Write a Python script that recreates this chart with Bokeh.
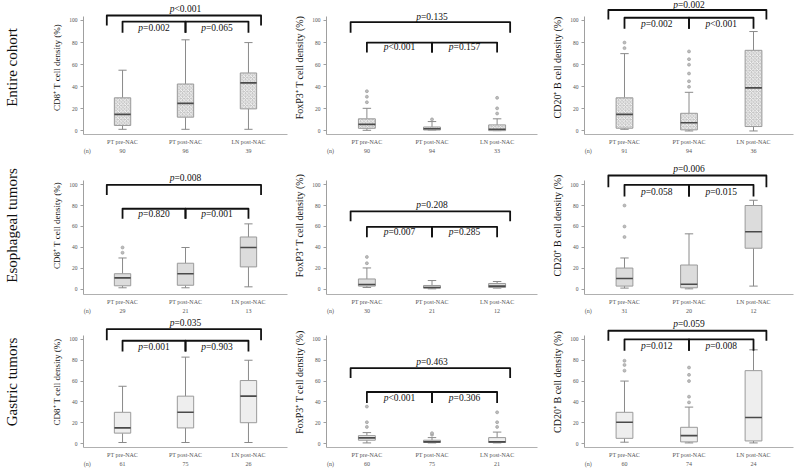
from bokeh.plotting import figure
from bokeh.models import FixedTicker, Range1d, LinearAxis
from bokeh.layouts import column, row
from bokeh.embed import file_html
from bokeh.resources import INLINE
from bokeh.core.properties import value

# ---------------- data ----------------
categories = ["PT pre-NAC", "PT post-NAC", "LN post-NAC"]
row_labels = ["Entire cohort", "Esophageal tumors", "Gastric tumors"]
y_labels = ["CD8\u207a T cell density (%)", "FoxP3\u207a T cell density (%)", "CD20\u207a B cell density (%)"]
y_ticks = [0, 20, 40, 60, 80, 100]

# box stats per category: [whisker low, q1, median, q3, whisker high]
entire_cd8 = [[1.5, 5, 15, 30, 55], [1.5, 12.5, 25, 42.5, 82.5], [1.5, 20, 43.5, 52.5, 80]]
entire_cd8_out = [[], [], []]
entire_cd8_n = [90, 96, 39]
entire_cd8_p = ["<0.001", "=0.002", "=0.065"]   # outer, left, right

entire_foxp3 = [[0.6, 2.4, 6, 11, 20.5], [0.9, 0.9, 2, 3.6, 8.5], [0.3, 0.3, 1.5, 5.5, 11]]
entire_foxp3_out = [[26, 31, 36], [10.5], [15.8, 20.5, 30]]
entire_foxp3_n = [90, 94, 33]
entire_foxp3_p = ["=0.135", "<0.001", "=0.157"]

entire_cd20 = [[1.5, 2.5, 15, 30, 70], [0, 1, 7.5, 16, 35], [0, 4, 39, 73, 90]]
entire_cd20_out = [[75, 80], [40, 45, 52, 60, 65, 72], []]
entire_cd20_n = [91, 94, 36]
entire_cd20_p = ["=0.002", "=0.002", "<0.001"]

eso_cd8 = [[1.6, 3.5, 11, 15, 30], [1.6, 4, 15, 25, 40], [2.5, 21.5, 40, 50, 62.5]]
eso_cd8_out = [[35, 40], [], []]
eso_cd8_n = [29, 21, 13]
eso_cd8_p = ["=0.008", "=0.820", "=0.001"]

eso_foxp3 = [[1.9, 3.2, 4.7, 10, 20.5], [0.6, 1.3, 1.9, 3.8, 8.5], [1.3, 1.9, 3.2, 5.7, 7.6]]
eso_foxp3_out = [[25, 31], [], []]
eso_foxp3_n = [30, 21, 12]
eso_foxp3_p = ["=0.208", "=0.007", "=0.285"]

eso_cd20 = [[1.3, 3.2, 10.5, 20.4, 30], [0.6, 1.6, 5, 23.3, 53], [3.2, 39.3, 55, 80, 85]]
eso_cd20_out = [[50, 60, 80], [], []]
eso_cd20_n = [31, 20, 12]
eso_cd20_p = ["=0.006", "=0.058", "=0.015"]

gas_cd8 = [[1, 10, 15, 30, 55], [1, 15, 30, 45.5, 83], [1, 20, 45.5, 60.5, 80]]
gas_cd8_out = [[], [], []]
gas_cd8_n = [61, 75, 26]
gas_cd8_p = ["=0.035", "=0.001", "=0.903"]

gas_foxp3 = [[0.6, 3.2, 5.4, 7.6, 10.5], [0.6, 1, 1.6, 3.2, 5.7], [0.6, 1, 1.6, 5.7, 11]]
gas_foxp3_out = [[16, 20.5, 35.5], [8.5, 10], [16, 20.5, 30]]
gas_foxp3_n = [60, 75, 21]
gas_foxp3_p = ["=0.463", "<0.001", "=0.306"]

gas_cd20 = [[1.3, 5, 20.4, 30, 60], [0.6, 1.6, 7.6, 15.6, 35], [0.6, 2.5, 25, 70, 90]]
gas_cd20_out = [[70, 75.5, 79.5], [39.5, 45, 60, 66, 73], []]
gas_cd20_n = [60, 74, 24]
gas_cd20_p = ["=0.059", "=0.012", "=0.008"]

panels = [
    [(entire_cd8, entire_cd8_out, entire_cd8_n, entire_cd8_p),
     (entire_foxp3, entire_foxp3_out, entire_foxp3_n, entire_foxp3_p),
     (entire_cd20, entire_cd20_out, entire_cd20_n, entire_cd20_p)],
    [(eso_cd8, eso_cd8_out, eso_cd8_n, eso_cd8_p),
     (eso_foxp3, eso_foxp3_out, eso_foxp3_n, eso_foxp3_p),
     (eso_cd20, eso_cd20_out, eso_cd20_n, eso_cd20_p)],
    [(gas_cd8, gas_cd8_out, gas_cd8_n, gas_cd8_p),
     (gas_foxp3, gas_foxp3_out, gas_foxp3_n, gas_foxp3_p),
     (gas_cd20, gas_cd20_out, gas_cd20_n, gas_cd20_p)],
]

# ---------------- layout / style ----------------
# bracket heights per panel: outer top, outer leg, outer text, inner top, inner leg, inner text
bracket_y = [
    [(104.5, 95.5, 110.8, 99, 89, 93), (98.5, 89, 103.6, 80, 71, 75.7), (109.5, 101, 114.2, 102.5, 92.5, 97)],
    [(99.7, 90, 106.4, 76.9, 67.3, 72.1), (74.5, 65, 80.2, 59.7, 49.7, 55), (108.6, 97.5, 115, 99.7, 88.6, 93)],
    [(109.9, 99.3, 115.4, 98.7, 88.5, 92.5), (72.4, 62.9, 78, 49.5, 39, 44), (108.3, 98.8, 114.6, 100, 89.2, 93.5)],
]
row_heights = [156, 160, 153]
row_yrange = [(-3.2, 118.1), (-4.8, 126.7), (-3.8, 122)]
col_widths = [290, 258, 252]
col_left = [75, 36, 36]
col_right = [3, 11, 7]
ylabel_size = ["9px", "10px", "10px"]
box_styles = [
    dict(fill_color="#c6c6c6", hatch_pattern="diagonal_cross", hatch_color="white",
         hatch_scale=3.5, hatch_weight=0.8),
    dict(fill_color="#dcdcdc"),
    dict(fill_color="#eeeeee"),
]
SERIF = "Liberation Serif"
xpos = [1, 2, 3]
N_POS = 0.44
BW = 0.26
CAP = 0.065

rows_out = []
for r in range(3):
    figs = []
    for c in range(3):
        stats, outs, ns, pv = panels[r][c]
        p = figure(width=col_widths[c], height=row_heights[r],
                   x_range=Range1d(0.38, 3.62), y_range=Range1d(*row_yrange[r]),
                   output_backend="svg", toolbar_location=None,
                   min_border_left=col_left[c], min_border_right=col_right[c],
                   min_border_top=0, min_border_bottom=0)
        p.outline_line_color = None
        p.grid.visible = False
        p.background_fill_color = "white"

        low = [s[0] for s in stats]
        q1 = [s[1] for s in stats]
        med = [s[2] for s in stats]
        q3 = [s[3] for s in stats]
        high = [s[4] for s in stats]

        # whiskers
        p.segment(x0=xpos, y0=q3, x1=xpos, y1=high, line_color="#8a8a8a", line_width=1)
        p.segment(x0=xpos, y0=low, x1=xpos, y1=q1, line_color="#8a8a8a", line_width=1)
        p.segment(x0=[x - CAP for x in xpos], y0=high, x1=[x + CAP for x in xpos], y1=high,
                  line_color="#8a8a8a", line_width=1)
        p.segment(x0=[x - CAP for x in xpos], y0=low, x1=[x + CAP for x in xpos], y1=low,
                  line_color="#8a8a8a", line_width=1)
        # boxes
        p.vbar(x=xpos, width=BW, bottom=q1, top=q3, line_color="#9a9a9a", line_width=1,
               **box_styles[r])
        p.segment(x0=[x - BW / 2 for x in xpos], y0=med, x1=[x + BW / 2 for x in xpos], y1=med,
                  line_color="#4a4a4a", line_width=1.6)
        # outliers
        ox, oy = [], []
        for i, o in enumerate(outs):
            for v in o:
                ox.append(xpos[i]); oy.append(v)
        if ox:
            p.scatter(x=ox, y=oy, size=3, fill_color="#bdbdbd", line_color="#999999",
                      line_width=0.6)

        # brackets
        ot, ol, otx, it, il, itx = bracket_y[r][c]
        xs = [[0.75, 0.75, 3.2, 3.2], [xpos[0], xpos[0], xpos[1], xpos[1]],
              [xpos[1], xpos[1], xpos[2], xpos[2]]]
        ys = [[ol, ot, ot, ol], [il, it, it, il], [il, it, it, il]]
        p.multi_line(xs=xs, ys=ys, line_color="#111111", line_width=1.8, line_join="round")
        tx = [2.0, 1.5, 2.5]
        ty = [otx, itx, itx]
        p.text(x=tx, y=ty, text=["p"] * 3, text_font=value(SERIF), text_font_style="italic",
               text_font_size="9.5px", text_align="right", text_baseline="middle",
               x_offset=-11, text_color="#111111")
        p.text(x=tx, y=ty, text=pv, text_font=value(SERIF),
               text_font_size="9.5px", text_align="left", text_baseline="middle",
               x_offset=-11, text_color="#111111")

        # axes
        ya = p.yaxis[0]
        ya.ticker = FixedTicker(ticks=y_ticks)
        ya.bounds = (row_yrange[r][0], 104)
        ya.axis_line_color = "#a0a0a0"
        ya.major_tick_line_color = "#a0a0a0"
        ya.major_tick_out = 3
        ya.major_tick_in = 0
        ya.minor_tick_line_color = None
        ya.major_label_text_font = SERIF
        ya.major_label_text_font_size = "5.5px"
        ya.major_label_text_color = "#555555"
        ya.major_label_standoff = 3
        ya.axis_label = y_labels[c]
        ya.axis_label_text_font = SERIF
        ya.axis_label_text_font_size = ylabel_size[c]
        ya.axis_label_text_font_style = "normal"
        ya.axis_label_text_color = "#111111"
        ya.axis_label_standoff = 4

        # x axis: category name with the count of cases on a second line
        xa = p.xaxis[0]
        ticks = [N_POS] + xpos
        labels = ["\n(n)"] + [categories[i] + "\n" + str(ns[i]) for i in range(3)]
        xa.ticker = FixedTicker(ticks=ticks)
        xa.major_label_overrides = {ticks[i]: labels[i] for i in range(4)}
        xa.axis_line_color = "#b0b0b0"
        xa.major_tick_line_color = None
        xa.minor_tick_line_color = None
        xa.major_tick_out = 0
        xa.major_tick_in = 0
        xa.major_label_text_font = SERIF
        xa.major_label_text_font_size = "6px"
        xa.major_label_text_font_style = "normal"
        xa.major_label_text_color = "#555555"
        xa.major_label_text_line_height = 1.5
        xa.major_label_standoff = 4

        if c == 0:
            # row label: the axis label of an extra tick-less left axis
            rl = LinearAxis(ticker=FixedTicker(ticks=[]), axis_line_color=None,
                            major_tick_line_color=None, minor_tick_line_color=None,
                            major_tick_out=0, major_tick_in=0, minor_tick_out=0,
                            major_label_standoff=0, major_label_text_font_size="0px",
                            axis_label=row_labels[r], axis_label_standoff=30,
                            axis_label_text_font=SERIF, axis_label_text_font_size="15px",
                            axis_label_text_font_style="normal",
                            axis_label_text_color="#111111")
            p.add_layout(rl, "left")
        figs.append(p)
    rows_out.append(row(*figs))

layout = column(*rows_out)

with open("out.html", "w") as f:
    f.write(file_html(layout, INLINE))
